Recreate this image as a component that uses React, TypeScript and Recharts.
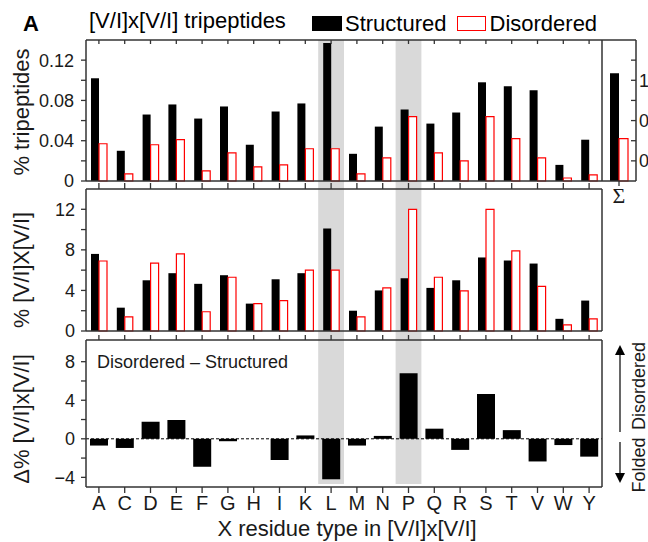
import React from 'react';
import { BarChart, Bar, XAxis, YAxis, ReferenceArea, ReferenceLine, Legend } from 'recharts';

const FONT = '"Liberation Sans", Arial, Helvetica, sans-serif';
const SERIF = '"Liberation Serif", "DejaVu Serif", serif';
const AX = '#333';
const TXT = '#1a1a1a';

// ---------- data ----------
const categories = ['A', 'C', 'D', 'E', 'F', 'G', 'H', 'I', 'K', 'L', 'M', 'N', 'P', 'Q', 'R', 'S', 'T', 'V', 'W', 'Y'];
const tripStructured = [0.102, 0.030, 0.066, 0.076, 0.062, 0.074, 0.036, 0.069, 0.077, 0.137, 0.027, 0.054, 0.071, 0.057, 0.068, 0.098, 0.094, 0.090, 0.016, 0.041];
const tripDisordered = [0.037, 0.007, 0.036, 0.041, 0.010, 0.028, 0.014, 0.016, 0.032, 0.032, 0.007, 0.023, 0.064, 0.028, 0.020, 0.064, 0.042, 0.023, 0.003, 0.006];
const vxvStructured = [7.6, 2.3, 5.0, 5.7, 4.65, 5.5, 2.7, 5.1, 5.7, 10.1, 2.0, 4.0, 5.2, 4.25, 5.0, 7.25, 6.95, 6.65, 1.2, 3.0];
const vxvDisordered = [6.9, 1.4, 6.7, 7.6, 1.9, 5.3, 2.7, 3.0, 6.0, 6.0, 1.4, 4.25, 12.0, 5.3, 3.95, 12.0, 7.9, 4.4, 0.6, 1.2];
const deltaValues = [-0.7, -0.95, 1.77, 1.95, -2.9, -0.25, 0.0, -2.2, 0.35, -4.2, -0.7, 0.3, 6.8, 1.05, -1.15, 4.65, 0.9, -2.35, -0.65, -1.85];
const sumCategory = ['\u03A3'];
const sumStructured = [1.07];
const sumDisordered = [0.42];
const highlighted = ['L', 'P'];
const seriesNames = ['Structured', 'Disordered'];

const tripTicks = [0, 0.02, 0.04, 0.06, 0.08, 0.10, 0.12];
const tripLabeled = [0, 0.04, 0.08, 0.12];
const vxvTicks = [0, 2, 4, 6, 8, 10, 12];
const vxvLabeled = [0, 4, 8, 12];
const deltaTicks = [-4, -2, 0, 2, 4, 6, 8];
const deltaLabeled = [-4, 0, 4, 8];
const sumTicks = [0.2, 0.4, 0.6, 0.8, 1.0, 1.2];
const sumLabeled = [0.2, 0.6, 1.0];

// ---------- tick renderer ----------
type TickOpts = {
  side: 'left' | 'right' | 'top' | 'bottom';
  len: number;
  inward: boolean;
  labeled?: number[] | null;
  fmt?: (v: any) => string;
  fontSize?: number;
  gap?: number;
  family?: string;
  skip?: number[];
};

function makeTick(o: TickOpts) {
  return (p: any) => {
    const { x, y, payload } = p;
    const v = payload ? payload.value : undefined;
    if (o.skip && typeof v === 'number' && o.skip.some((s) => Math.abs(s - v) < 1e-9)) return <g />;
    const dir = o.inward ? -1 : 1;
    let x2 = x;
    let y2 = y;
    if (o.side === 'left') x2 = x - dir * o.len;
    if (o.side === 'right') x2 = x + dir * o.len;
    if (o.side === 'top') y2 = y - dir * o.len;
    if (o.side === 'bottom') y2 = y + dir * o.len;
    let label: any = null;
    const show =
      o.fmt && (!o.labeled || (typeof v === 'number' && o.labeled.some((l) => Math.abs(l - v) < 1e-9)));
    if (show && o.fmt) {
      const t = o.fmt(v);
      const common = { fontSize: o.fontSize || 18, fontFamily: o.family || FONT, fill: TXT };
      const gap = o.gap || 0;
      if (o.side === 'left')
        label = (
          <text x={x - (o.inward ? 0 : o.len) - gap} y={y} dy="0.36em" textAnchor="end" {...common}>
            {t}
          </text>
        );
      if (o.side === 'right')
        label = (
          <text x={x + (o.inward ? 0 : o.len) + gap} y={y} dy="0.36em" textAnchor="start" {...common}>
            {t}
          </text>
        );
      if (o.side === 'bottom')
        label = (
          <text x={x} y={y + gap} textAnchor="middle" {...common}>
            {t}
          </text>
        );
    }
    return (
      <g>
        <line x1={x} y1={y} x2={x2} y2={y2} stroke={AX} strokeWidth={1.3} />
        {label}
      </g>
    );
  };
}

const fmtTrip = (v: number) => (v === 0 ? '0' : v.toFixed(2));
const fmtInt = (v: number) => (v < 0 ? '\u2212' + Math.abs(v) : String(v));
const fmtSum = (v: number) => v.toFixed(1);

const axisLine = { stroke: AX, strokeWidth: 1.5 };
const W = 648;
const H = 542;

const renderLegend = (props: any) => {
  const items = [...(props.payload || [])].sort(
    (a: any, b: any) => seriesNames.indexOf(a.value) - seriesNames.indexOf(b.value)
  );
  return (
    <div
      style={{
        display: 'flex',
        alignItems: 'center',
        fontFamily: FONT,
        fontSize: 22,
        lineHeight: '22px',
        color: '#000',
        whiteSpace: 'nowrap',
      }}
    >
      {items.map((it: any, i: number) => {
        const outline = it.dataKey === 'dis';
        return (
          <div key={i} style={{ display: 'flex', alignItems: 'center', marginLeft: i ? 10 : 0 }}>
            <span
              style={{
                display: 'inline-block',
                width: outline ? 29 : 30,
                height: 15,
                boxSizing: 'border-box',
                background: outline ? '#fff' : '#000',
                border: outline ? '1.5px solid #f00' : 'none',
                marginRight: outline ? 4 : 3,
              }}
            />
            <span>{it.value}</span>
          </div>
        );
      })}
    </div>
  );
};

export default function App() {
  const tripData = categories.map((c, i) => ({ cat: c, str: tripStructured[i], dis: tripDisordered[i] }));
  const vxvData = categories.map((c, i) => ({ cat: c, str: vxvStructured[i], dis: vxvDisordered[i] }));
  const deltaData = categories.map((c, i) => ({ cat: c, delta: deltaValues[i] }));
  const sumData = sumCategory.map((c, i) => ({ cat: c, str: sumStructured[i], dis: sumDisordered[i] }));

  const abs: React.CSSProperties = { position: 'absolute', left: 0, top: 0 };

  return (
    <div style={{ position: 'absolute', left: 0, top: 0, width: W, height: H, overflow: 'hidden', background: '#fff', fontFamily: FONT }}>
      {/* Panel 1: % tripeptides */}
      <div style={abs}>
        <BarChart width={W} height={H} data={tripData} margin={{ top: 30, right: 36, bottom: 351, left: 26 }} barGap={0}>
          {highlighted.map((h) => (
            <ReferenceArea key={h} x1={h} x2={h} y1={-0.008} y2={0.14} fill="#d9d9d9" fillOpacity={1} stroke="none" ifOverflow="visible" />
          ))}
          <Bar dataKey="str" name={seriesNames[0]} fill="#000" barSize={8} isAnimationActive={false} />
          <Bar dataKey="dis" name={seriesNames[1]} fill="#fff" stroke="#f00" strokeWidth={1.2} barSize={8} isAnimationActive={false} />
          <XAxis dataKey="cat" height={10} axisLine={axisLine} tick={false} tickLine={false} interval={0} />
          <XAxis xAxisId="top" dataKey="cat" orientation="top" height={10} axisLine={axisLine} tickLine={false} tickSize={0} tickMargin={0} interval={0}
            tick={makeTick({ side: 'top', len: 4, inward: true })} />
          <YAxis domain={[0, 0.14]} ticks={tripTicks} width={60} axisLine={axisLine} tickLine={false} tickSize={0} tickMargin={0} interval={0}
            tick={makeTick({ side: 'left', len: 5, inward: false, labeled: tripLabeled, fmt: fmtTrip, fontSize: 18, gap: 7 })} />
          <YAxis yAxisId="r" orientation="right" domain={[0, 0.14]} ticks={tripTicks} width={10} axisLine={axisLine} tickLine={false} tickSize={0} tickMargin={0} interval={0}
            tick={makeTick({ side: 'right', len: 9, inward: true, skip: [0] })} />
          <Legend content={renderLegend} layout="horizontal" verticalAlign="middle" align="center" wrapperStyle={{ left: 312, top: 12.5, width: 'auto' }} />
        </BarChart>
      </div>

      {/* Sum panel */}
      <div style={abs}>
        <BarChart width={W} height={H} data={sumData} margin={{ top: 30, right: 2, bottom: 351, left: 602 }} barGap={0}>
          <Bar dataKey="str" fill="#000" barSize={9} isAnimationActive={false} />
          <Bar dataKey="dis" fill="#fff" stroke="#f00" strokeWidth={1.2} barSize={9} isAnimationActive={false} />
          <XAxis dataKey="cat" height={10} axisLine={axisLine} tickLine={false} tickSize={0} tickMargin={0} interval={0}
            tick={makeTick({ side: 'bottom', len: 5, inward: false, fmt: (v: any) => String(v), fontSize: 22, gap: 22, family: SERIF })} />
          <XAxis xAxisId="top" dataKey="cat" orientation="top" height={10} axisLine={axisLine} tick={false} tickLine={false} />
          <YAxis orientation="right" domain={[0, 1.4]} ticks={sumTicks} width={10} axisLine={axisLine} tickLine={false} tickSize={0} tickMargin={0} interval={0}
            tick={makeTick({ side: 'right', len: 5, inward: true, labeled: sumLabeled, fmt: fmtSum, fontSize: 18, gap: 3 })} />
        </BarChart>
      </div>

      {/* Panel 2: % [V/I]X[V/I] */}
      <div style={abs}>
        <BarChart width={W} height={H} data={vxvData} margin={{ top: 179, right: 36, bottom: 201, left: 26 }} barGap={0}>
          {highlighted.map((h) => (
            <ReferenceArea key={h} x1={h} x2={h} y1={-0.9} y2={14} fill="#d9d9d9" fillOpacity={1} stroke="none" ifOverflow="visible" />
          ))}
          <Bar dataKey="str" fill="#000" barSize={8} isAnimationActive={false} />
          <Bar dataKey="dis" fill="#fff" stroke="#f00" strokeWidth={1.2} barSize={8} isAnimationActive={false} />
          <XAxis dataKey="cat" height={10} axisLine={axisLine} tick={false} tickLine={false} interval={0} />
          <XAxis xAxisId="top" dataKey="cat" orientation="top" height={10} axisLine={axisLine} tickLine={false} tickSize={0} tickMargin={0} interval={0}
            tick={makeTick({ side: 'top', len: 6, inward: false })} />
          <YAxis domain={[0, 14]} ticks={vxvTicks} width={60} axisLine={axisLine} tickLine={false} tickSize={0} tickMargin={0} interval={0}
            tick={makeTick({ side: 'left', len: 5, inward: false, labeled: vxvLabeled, fmt: fmtInt, fontSize: 18, gap: 6 })} />
          <YAxis yAxisId="r" orientation="right" domain={[0, 14]} ticks={vxvTicks} width={10} axisLine={axisLine} tickLine={false} tickSize={0} tickMargin={0} interval={0}
            tick={makeTick({ side: 'right', len: 9, inward: true, skip: [0] })} />
        </BarChart>
      </div>

      {/* Panel 3: difference */}
      <div style={abs}>
        <BarChart width={W} height={H} data={deltaData} margin={{ top: 330, right: 36, bottom: 25, left: 26 }}>
          {highlighted.map((h) => (
            <ReferenceArea key={h} x1={h} x2={h} y1={-4.7} y2={10.25} fill="#d9d9d9" fillOpacity={1} stroke="none" ifOverflow="visible" />
          ))}
          <ReferenceLine y={0} stroke="#000" strokeWidth={1} strokeDasharray="3 2" />
          <Bar dataKey="delta" fill="#000" barSize={18} isAnimationActive={false} />
          <XAxis dataKey="cat" height={30} axisLine={axisLine} tickLine={false} tickSize={0} tickMargin={0} interval={0}
            tick={makeTick({ side: 'bottom', len: 6, inward: false, fmt: (v: any) => String(v), fontSize: 20, gap: 23 })} />
          <XAxis xAxisId="top" dataKey="cat" orientation="top" height={10} axisLine={axisLine} tickLine={false} tickSize={0} tickMargin={0} interval={0}
            tick={makeTick({ side: 'top', len: 5, inward: false })} />
          <YAxis domain={[-5, 10.25]} ticks={deltaTicks} width={60} axisLine={axisLine} tickLine={false} tickSize={0} tickMargin={0} interval={0}
            tick={makeTick({ side: 'left', len: 5, inward: false, labeled: deltaLabeled, fmt: fmtInt, fontSize: 18, gap: 6 })} />
          <YAxis yAxisId="r" orientation="right" domain={[-5, 10.25]} ticks={deltaTicks} width={10} axisLine={axisLine} tickLine={false} tickSize={0} tickMargin={0} interval={0}
            tick={makeTick({ side: 'right', len: 9, inward: true })} />
        </BarChart>
      </div>

      {/* Annotations */}
      <svg style={{ ...abs, pointerEvents: 'none' }} width={W} height={H}>
        <text x={23} y={31} fontFamily={FONT} fontSize={22} fontWeight="bold" fill="#000">A</text>
        <text x={89} y={28} fontFamily={FONT} fontSize={22} fill="#000">[V/I]x[V/I] tripeptides</text>
        <text transform="translate(29,112) rotate(-90)" textAnchor="middle" fontFamily={FONT} fontSize={22} fill={TXT}>% tripeptides</text>
        <text transform="translate(28.5,270) rotate(-90)" textAnchor="middle" fontFamily={FONT} fontSize={21.5} fill={TXT}>% [V/I]X[V/I]</text>
        <text transform="translate(28.5,419) rotate(-90)" textAnchor="middle" fontFamily={FONT} fontSize={22} fill={TXT}>{'\u0394% [V/I]x[V/I]'}</text>
        <text x={347} y={536} textAnchor="middle" fontFamily={FONT} fontSize={22} fill={TXT}>X residue type in [V/I]x[V/I]</text>
        <text x={97} y={368} fontFamily={FONT} fontSize={18} fill={TXT}>{'Disordered \u2013 Structured'}</text>
        {/* arrows */}
        <line x1={620} y1={354} x2={620} y2={432} stroke="#000" strokeWidth={1.2} />
        <polygon points="620,345 615,355 625,355" fill="#000" />
        <line x1={620} y1={442} x2={620} y2={474} stroke="#000" strokeWidth={1.2} />
        <polygon points="620,483 615,473 625,473" fill="#000" />
        <text transform="translate(645,386) rotate(-90)" textAnchor="middle" fontFamily={FONT} fontSize={18} fill={TXT}>Disordered</text>
        <text transform="translate(645,465) rotate(-90)" textAnchor="middle" fontFamily={FONT} fontSize={18} fill={TXT}>Folded</text>
      </svg>
    </div>
  );
}
